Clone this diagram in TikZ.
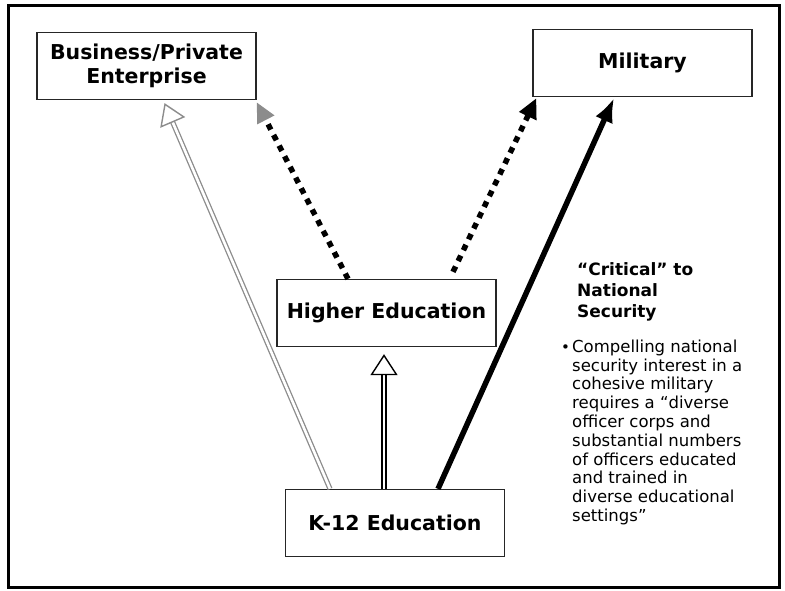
\documentclass[tikz,border=0pt]{standalone}
\usepackage{fontspec}
\setmainfont{DejaVu Sans}
\usetikzlibrary{arrows.meta}

\tikzset{
  box/.style={draw=black!85, line width=1.3pt, fill=white, minimum width=219pt,
    minimum height=67pt, inner sep=0pt, align=center,
    font=\fontsize{20.5}{24}\selectfont\bfseries},
  hollow/.style={double=white, double distance=2.6pt, line width=1.3pt,
    -{Triangle[open, length=21pt, width=27pt, line width=1.4pt]}},
  dotarrow/.style={line width=5.5pt, dash pattern=on 6pt off 6pt,
    -{Triangle[length=20pt, width=18pt]}},
  headtext/.style={inner sep=0pt, align=left, font=\fontsize{17}{21}\selectfont\bfseries},
  bodytext/.style={inner sep=0pt, align=left, font=\fontsize{16.5}{18.8}\selectfont},
}

\begin{document}
\begin{tikzpicture}[x=1pt, y=-1pt]
    % 外框
    \useasboundingbox (0,0) rectangle (785,590);
    \draw[line width=3pt] (8,5) rectangle (779,587);

    % 方框
    \node [box] (biz) at (146.5,66) {Business/Private\\Enterprise};
    \node [box] (mil) at (642.5,63) {Military};
    \node [box] (higher) at (386.5,313) {Higher Education};
    \node [box] (k12) at (395,523) {K-12 Education};

    % 从 K-12 出发的箭头
    \draw[hollow, black!45] ([xshift=-65pt]k12.north) -- ([xshift=18pt,yshift=-3pt]biz.south);
    \draw[hollow] ([xshift=-11pt]k12.north) -- ([xshift=-2.5pt,yshift=-7pt]higher.south);
    \draw[line width=5.5pt, -{Latex[length=24pt, width=19pt]}]
        ([xshift=43pt]k12.north) -- ([xshift=-28.5pt,yshift=-1pt]mil.south);

    % 从高等教育出发的虚线箭头
    \draw[dotarrow, -{Triangle[length=20pt, width=18pt, fill=black!45, color=black!45]}]
        ([xshift=-38.5pt]higher.north) -- ([yshift=-2pt]biz.south east);
    \draw[dotarrow] ([xshift=66.5pt,yshift=7pt]higher.north) -- ([xshift=4pt,yshift=-1pt]mil.south west);

    % 右侧说明文字
    \node [headtext, anchor=north west] (critical) at (577,262)
        {“Critical” to\\National\\Security};
    \node [bodytext, anchor=base west] (bullet) at (561,352) {\fontsize{15}{15}\selectfont•};
    \node [bodytext, anchor=north west] (interest) at (572,339.5)
        {Compelling national\\security interest in a\\cohesive military\\requires a “diverse\\officer corps and\\substantial numbers\\of officers educated\\and trained in\\diverse educational\\settings”};
\end{tikzpicture}
\end{document}
